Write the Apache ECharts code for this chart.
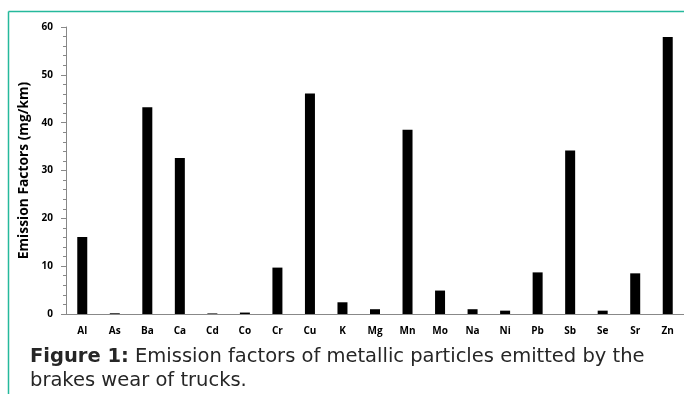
<!DOCTYPE html>
<html>
<head>
<meta charset="utf-8">
<script src="https://cdn.jsdelivr.net/npm/echarts@6/dist/echarts.min.js"></script>
<style>
html,body{margin:0;padding:0;background:#fff;}
#c{width:684px;height:394px;}
</style>
</head>
<body>
<div id="c"></div>
<script>
const categories = ['Al','As','Ba','Ca','Cd','Co','Cr','Cu','K','Mg','Mn','Mo','Na','Ni','Pb','Sb','Se','Sr','Zn'];
const emissionValues = [16.1,0.15,43.2,32.6,0.12,0.3,9.7,46.1,2.45,1.0,38.5,4.9,1.0,0.7,8.7,34.2,0.7,8.5,57.9];
const yTicks = [0,10,20,30,40,50,60];
const yAxisTitle = 'Emission Factors (mg/km)';
const captionBold = 'Figure 1:';
const captionRest = ' Emission factors of metallic particles emitted by the';
const captionLine2 = 'brakes wear of trucks.';

const chart = echarts.init(document.getElementById('c'), null, {renderer:'canvas'});
const lab = {fontFamily:'Open Sans', fontWeight:'bold', fontSize:10, color:'#000'};
const capFont = 'DejaVu Sans';
chart.setOption({
  animation:false,
  backgroundColor:'#fff',
  grid:{left:66, top:27, width:623, height:287, containLabel:false},
  title:{
    left:25, top:340,
    text:'{b|'+captionBold+'}{n|'+captionRest+'}\n{n|'+captionLine2+'}',
    textStyle:{
      rich:{
        b:{fontFamily:capFont, fontWeight:'bold', fontSize:19.5, color:'#262626', lineHeight:24},
        n:{fontFamily:capFont, fontWeight:'normal', fontSize:19.5, color:'#262626', lineHeight:24}
      }
    }
  },
  xAxis:{
    type:'category', data:categories,
    axisLine:{lineStyle:{color:'#888', width:1}},
    axisTick:{show:false},
    axisLabel:Object.assign({margin:12, interval:0}, lab)
  },
  yAxis:{
    type:'value', min:yTicks[0], max:yTicks[yTicks.length-1], interval:10,
    name:yAxisTitle, nameLocation:'middle', nameGap:34,
    nameTextStyle:{fontFamily:'Open Sans', fontWeight:'bold', fontSize:13.8, color:'#000'},
    axisLine:{show:true, lineStyle:{color:'#888', width:1}},
    axisTick:{show:true, length:5, lineStyle:{color:'#888'}},
    minorTick:{show:true, splitNumber:5, length:3, lineStyle:{color:'#888'}},
    splitLine:{show:false},
    axisLabel:Object.assign({margin:13}, lab)
  },
  series:[{
    type:'bar', data:emissionValues, barWidth:10,
    itemStyle:{color:'#000'}
  }],
  graphic:[
    {type:'line', shape:{x1:8.5,y1:11.5,x2:684,y2:11.5}, style:{stroke:'#25b99c', lineWidth:1.5}},
    {type:'line', shape:{x1:8.5,y1:11.5,x2:8.5,y2:394}, style:{stroke:'#25b99c', lineWidth:1.5}}
  ]
});
</script>
</body>
</html>
